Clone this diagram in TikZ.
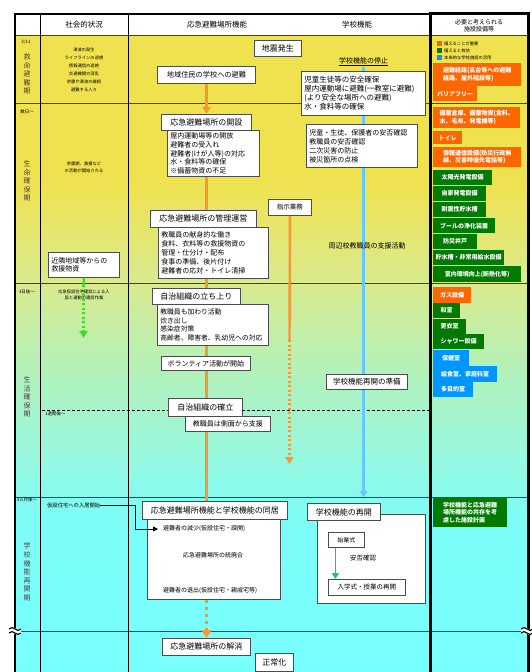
\documentclass[tikz,border=0pt]{standalone}
\usepackage{fontspec}
\setmainfont{Noto Sans CJK JP}
\usetikzlibrary{arrows.meta}
\definecolor{yA}{RGB}{240,226,78}
\definecolor{yB}{RGB}{218,234,140}
\definecolor{gC}{RGB}{175,242,190}
\definecolor{gD}{RGB}{150,248,225}
\definecolor{cE}{RGB}{125,253,248}
\definecolor{cF}{RGB}{120,255,255}
\definecolor{eqor}{RGB}{255,102,0}
\definecolor{eqgr}{RGB}{0,122,0}
\definecolor{eqbl}{RGB}{0,150,255}
\definecolor{oline}{RGB}{250,150,50}
\definecolor{bline}{RGB}{100,200,255}
\definecolor{tline}{RGB}{30,180,190}
\definecolor{gline}{RGB}{60,220,40}
\definecolor{phasec}{RGB}{80,60,60}
\newcommand\fs[2]{\fontsize{#1bp}{#2bp}\selectfont}
\newcommand\mysquig[2]{%
  \begin{scope}[shift={(#1,#2)}]
    \draw[white, line width=5bp] (-6,0) .. controls (-2,-5) and (2,5) .. (6,0);
    \draw[line width=1.1bp] (-6,-2) .. controls (-2,-7) and (2,3) .. (6,-2);
    \draw[line width=1.1bp] (-6,2) .. controls (-2,-3) and (2,7) .. (6,2);
  \end{scope}}
\tikzset{
  ttl/.style={draw=black!70, line width=0.9bp, fill=white, inner sep=0pt, anchor=north west, font=\fs{8}{9.5}},
  lst/.style={draw=black!70, line width=0.7bp, fill=white, inner xsep=3bp, inner ysep=0pt, anchor=north west, align=left, font=\fs{7}{8.8}},
  small/.style={font=\fs{4.3}{8}, align=center, inner sep=0pt},
  phase/.style={font=\fs{7}{8.6}, text=phasec, align=center, inner sep=0pt},
  tlabel/.style={font=\fs{4.5}{5}, inner sep=0pt},
  eqb/.style={anchor=north west, inner sep=0pt, align=left, text=white, font=\fs{6}{7.5}\bfseries},
  oarr/.style={draw=oline, line width=2.4bp},
  odot/.style={draw=oline, line width=2.4bp, dash pattern=on 2bp off 2.5bp},
  rowline/.style={draw=black!75, line width=0.8bp},
  colline/.style={draw=black, line width=0.8bp},
}
\begin{document}
\begin{tikzpicture}[x=1bp,y=-1bp]
\useasboundingbox (0,0) rectangle (532,672);
% background
\fill[white] (0,0) rectangle (532,672);
\fill[yA] (15,35) rectangle (528,180);
\shade[top color=yA, bottom color=yB] (15,180) rectangle (528,280);
\shade[top color=yB, bottom color=gC] (15,280) rectangle (528,380);
\shade[top color=gC, bottom color=gD] (15,380) rectangle (528,460);
\shade[top color=gD, bottom color=cE] (15,460) rectangle (528,520);
\shade[top color=cE, bottom color=cF] (15,520) rectangle (528,672);
% grid
\draw[rowline] (15,35) -- (528,35);
\draw[rowline] (15,103) -- (528,103);
\draw[rowline] (15,283) -- (528,283);
\draw[rowline] (15,497) -- (528,497);
\draw[rowline] (15,631) -- (528,631);
\draw[colline] (40,14) -- (40,672);
\draw[colline] (128,14) -- (128,672);
\draw[line width=0.6bp, dash pattern=on 3bp off 2bp] (42,410) -- (430,410);
\draw[line width=1.5bp] (15,14) -- (430,14);
\draw[line width=2.5bp] (15,13) -- (15,672);
\draw[line width=3bp] (430,12.5) -- (430,672);
\draw[line width=3bp] (528,12.5) -- (528,672);
\draw[line width=3bp] (428.5,14) -- (529.5,14);
\mysquig{15}{631}
\mysquig{527}{631}
% headers
\node[font=\fs{7.5}{9}] (h1) at (84,25) {社会的状況};
\node[font=\fs{7.5}{9}] (h2) at (217,25) {応急避難場所機能};
\node[font=\fs{7.5}{9}] (h3) at (357,25) {学校機能};
\node[font=\fs{6}{7}, align=center, inner sep=0pt] (h4) at (479,25.5) {必要と考えられる\\施設設備等};
% phase column
\node[tlabel] (t1) at (26,42) {3/11};
\node[phase] (p1) at (27,74) {救\\命\\避\\難\\期};
\node[tlabel] (t2) at (27,112) {数日〜};
\node[phase] (p2) at (27,181) {生\\命\\確\\保\\期};
\node[tlabel] (t3) at (27,292) {3日後〜};
\node[phase] (p3) at (27,397) {生\\活\\確\\保\\期};
\node[tlabel] (t4) at (27,500) {3ヵ月後〜};
\node[phase] (p4) at (27,572) {学\\校\\機\\能\\再\\開\\期};
% social column
\node[small] (s1) at (84,70) {津波の発生\\ライフラインの途絶\\情報通信の途絶\\交通機関の混乱\\余震や津波の継続\\避難する人々};
\node[small, font=\fs{4.3}{7}] (s2) at (84,167) {余震期、救援など\\の活動が開始される};
\node[lst, text width=65bp, minimum height=25bp] (kinrin) at (48,252) {近隣地域等からの\\救援物資};
\coordinate (gmid) at (83.5,285);
\coordinate (gend) at (83.5,338);
\draw[gline, line width=2.2bp] (kinrin.south) -- (gmid);
\draw[gline, line width=2.2bp, dash pattern=on 2bp off 2.5bp, -{Triangle[width=8bp,length=7bp]}] (gmid) -- (gend);
\node[small, font=\fs{4.3}{5.5}] (s3) at (84,295) {応急仮設住宅建設による入\\居と連動の建設作業};
\node[tlabel, anchor=west] (t5) at (45,414) {1週間後〜};
\node[tlabel, font=\fs{5.3}{6}, anchor=west] (s4) at (47,505) {仮設住宅への入居開始};
% emergency column
\node[ttl, minimum width=47bp, minimum height=16bp] (jishin) at (254,40) {地震発生};
\node[ttl, minimum width=98bp, minimum height=17bp, font=\fs{7.2}{9}] (hinan) at (157,66) {地域住民の学校への避難};
\node[lst, text width=86bp, minimum height=46bp] (l1) at (167,130) {屋内運動場等の開放\\避難者の受入れ\\避難者(けが人等)の対応\\水・食料等の確保\\※備蓄物資の不足};
\node[ttl, minimum width=90bp, minimum height=16bp] (kaisetsu) at (161,114) {応急避難場所の開設};
\node[lst, text width=104bp, minimum height=51bp] (l2) at (158,227) {教職員の献身的な働き\\食料、衣料等の救援物資の\\管理・仕分け・配布\\食事の準備、後片付け\\避難者の応対・トイレ清掃};
\node[ttl, minimum width=106bp, minimum height=17bp] (kanri) at (150,210) {応急避難場所の管理運営};
\node[lst, text width=105bp, minimum height=41bp, font=\fs{6.8}{8.4}] (l3) at (157,304) {教職員も加わり活動\\炊き出し\\感染症対策\\高齢者、障害者、乳幼児への対応};
\node[ttl, minimum width=88bp, minimum height=16bp] (jichi) at (152,288) {自治組織の立ち上り};
\node[ttl, minimum width=89bp, minimum height=14bp, font=\fs{7}{8}] (vol) at (161,356) {ボランティア活動が開始};
\node[lst, text width=79bp, minimum height=15bp, align=center] (l4) at (185,416) {教職員は側面から支援};
\node[ttl, minimum width=74bp, minimum height=18bp] (kakuritsu) at (168,398) {自治組織の確立};
\node[lst, minimum width=133bp, minimum height=84bp] (big1) at (147,515) {};
\node[ttl, minimum width=145bp, minimum height=18bp] (doukyo) at (142,501) {応急避難場所機能と学校機能の同居};
\node[font=\fs{6}{7}, anchor=west, inner sep=0pt] (gen) at (163,529) {避難者の減少(仮設住宅・疎開)};
\node[font=\fs{6}{7}, inner sep=0pt] (tou) at (213,555) {応急避難場所の統廃合};
\node[font=\fs{6}{7}, anchor=west, inner sep=0pt] (tai) at (163,591) {避難者の退出(仮設住宅・親戚宅等)};
\node[ttl, minimum width=88bp, minimum height=17bp] (kaisho) at (162,638) {応急避難場所の解消};
\node[ttl, minimum width=38bp, minimum height=18bp] (seijo) at (255,653) {正常化};
\coordinate (bk) at (135,529);
\draw[line width=0.8bp, -{Triangle[width=5bp,length=5bp]}] (s4.east) -| (bk) -- ([xshift=-5bp]gen.west);
% orange connectors
\draw[oarr, -{Triangle[width=8bp,length=7bp]}] (hinan.south) -- (kaisetsu.north -| hinan.south);
\draw[oarr] (l1.south -| hinan.south) -- (kanri.north -| hinan.south);
\draw[oarr] (l2.south -| hinan.south) -- (jichi.north -| hinan.south);
\draw[oarr] (l3.south -| hinan.south) -- (vol.north -| hinan.south);
\draw[oarr] (vol.south -| hinan.south) -- (kakuritsu.north -| hinan.south);
\draw[oarr] (l4.south -| hinan.south) -- (doukyo.north -| hinan.south);
\draw[oarr, line width=3bp, dash pattern=on 3bp off 4bp, -{Triangle[width=10bp,length=8bp]}] (big1.south -| hinan.south) -- (kaisho.north -| hinan.south);
\node[ttl, minimum width=43bp, minimum height=16bp, font=\fs{6.5}{8}] (shiji) at (268,199) {指示業務};
\coordinate (sm) at (289.5,340);
\coordinate (se) at (289.5,464);
\draw[oarr] (shiji) -- (sm);
\draw[odot, -{Triangle[width=8bp,length=7bp]}] (sm) -- (se);
% school column
\node[font=\fs{7}{8}, inner sep=1pt] (teishi) at (363.5,62) {\underline{学校機能の停止}};
\coordinate (bend) at (363.5,497);
\draw[bline, line width=2.4bp, -{Triangle[width=8bp,length=6bp]}] (teishi.south) -- (bend);
\node[lst, font=\fs{7.5}{9}, text width=118bp, minimum height=44bp] (sc1) at (301,71) {児童生徒等の安全確保\\屋内運動場に避難(一教室に避難)\\(より安全な場所への避難)\\水・食料等の確保};
\node[lst, font=\fs{7}{9}, text width=105bp, minimum height=43bp] (sc2) at (306,124) {児童・生徒、保護者の安否確認\\教職員の安否確認\\二次災害の防止\\被災箇所の点検};
\node[font=\fs{7}{8}, inner sep=0pt] (shuhen) at (367,246) {周辺校教職員の支援活動};
\node[ttl, minimum width=81bp, minimum height=15bp, font=\fs{7.5}{8.5}] (junbi) at (326,374) {学校機能再開の準備};
\node[lst, minimum width=108bp, minimum height=89bp] (big2) at (317,514) {};
\node[ttl, minimum width=73bp, minimum height=17bp] (saikai) at (307,503) {学校機能の再開};
\node[ttl, line width=0.7bp, minimum width=36bp, minimum height=15bp, font=\fs{6}{7}] (shigyo) at (328,532) {始業式};
\node[ttl, line width=0.7bp, minimum width=77bp, minimum height=16bp, font=\fs{6.5}{8}] (nyugaku) at (328,579) {入学式・授業の再開};
\node[font=\fs{6.5}{8}, inner sep=0pt] (anpi) at (363,558) {安否確認};
\coordinate (tA) at ([xshift=-11bp]shigyo.south);
\draw[tline, line width=1.6bp, -{Triangle[width=7bp,length=6bp]}] (tA) -- (tA |- nyugaku.north);
% equipment column legend
\node[fill=eqor, minimum size=5bp, inner sep=0pt, anchor=north west] (lg1) at (437,41) {};
\node[fill=eqgr, minimum size=5bp, inner sep=0pt, anchor=north west] (lg2) at (437,48) {};
\node[fill=eqbl, minimum size=5bp, inner sep=0pt, anchor=north west] (lg3) at (437,55) {};
\node[font=\fs{4.3}{5}, anchor=west, inner sep=0pt] (lt1) at (444,43.5) {備えることが重要};
\node[font=\fs{4.3}{5}, anchor=west, inner sep=0pt] (lt2) at (444,50.5) {備えると有効};
\node[font=\fs{4.3}{5}, anchor=west, inner sep=0pt] (lt3) at (444,57.5) {本来的な学校施設の活用};
% equipment boxes
\node[eqb, fill=eqor, minimum width=88bp, minimum height=23bp] (e1) at (433,63) {避難経路(高台等への避難\\経路、屋外階段等)};
\node[eqb, fill=eqor, minimum width=44bp, minimum height=15bp] (e2) at (433,86) {バリアフリー};
\node[eqb, fill=eqor, minimum width=87bp, minimum height=21bp] (e3) at (433,107) {備蓄倉庫、備蓄物資(食料、\\水、毛布、発電機等)};
\node[eqb, fill=eqor, minimum width=29bp, minimum height=13bp] (e4) at (433,131) {トイレ};
\node[eqb, fill=eqor, minimum width=88bp, minimum height=20bp] (e5) at (433,147) {情報通信設備(防災行政無\\線、災害時優先電話等)};
\node[eqb, fill=eqgr, minimum width=59bp, minimum height=15bp] (e6) at (433,170) {太陽光発電設備};
\node[eqb, fill=eqgr, minimum width=53bp, minimum height=15bp] (e7) at (433,186) {自家発電設備};
\node[eqb, fill=eqgr, minimum width=53bp, minimum height=15bp] (e8) at (433,202) {耐震性貯水槽};
\node[eqb, fill=eqgr, minimum width=62bp, minimum height=15bp] (e9) at (433,218) {プールの浄化装置};
\node[eqb, fill=eqgr, minimum width=44bp, minimum height=15bp] (e10) at (433,234) {防災井戸};
\node[eqb, fill=eqgr, minimum width=71bp, minimum height=15bp] (e11) at (433,250) {貯水槽・非常用給水設備};
\node[eqb, fill=eqgr, minimum width=88bp, minimum height=16bp] (e12) at (433,266) {室内環境向上(断熱化等)};
\node[eqb, fill=eqor, minimum width=38bp, minimum height=16bp] (e13) at (433,287) {ガス設備};
\node[eqb, fill=eqgr, minimum width=27bp, minimum height=15bp] (e14) at (433,303) {和室};
\node[eqb, fill=eqgr, minimum width=33bp, minimum height=15bp] (e15) at (433,319) {更衣室};
\node[eqb, fill=eqgr, minimum width=51bp, minimum height=15bp] (e16) at (433,334) {シャワー設備};
\node[eqb, fill=eqbl, minimum width=36bp, minimum height=16bp] (e17) at (433,350) {保健室};
\node[eqb, fill=eqbl, minimum width=64bp, minimum height=16bp] (e18) at (433,366) {給食室、家庭科室};
\node[eqb, fill=eqbl, minimum width=40bp, minimum height=15bp] (e19) at (433,382) {多目的室};
\node[eqb, fill=eqgr, minimum width=74bp, minimum height=30bp] (e20) at (433,497) {学校機能と応急避難\\場所機能の共存を考\\慮した施設計画};
\end{tikzpicture}
\end{document}
